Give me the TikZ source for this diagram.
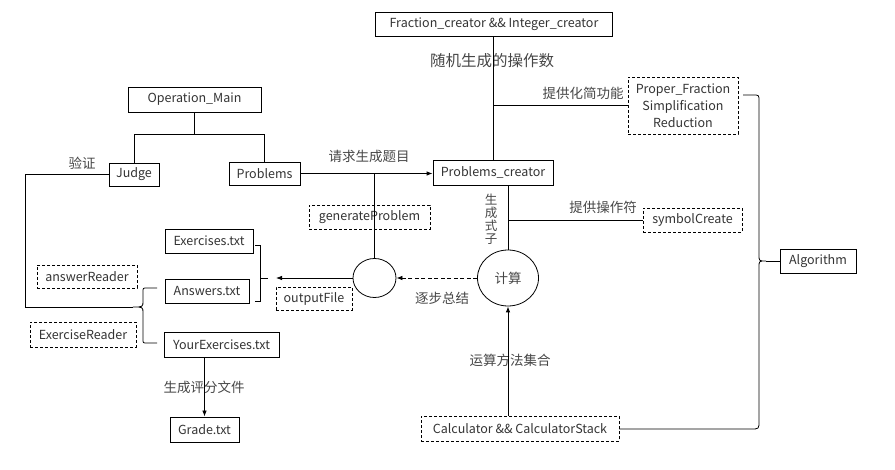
\documentclass[tikz,border=0pt]{standalone}
\usepackage{fontspec}
\setmainfont{Noto Sans CJK SC}
\usetikzlibrary{arrows.meta,shapes.geometric,calc}
\tikzset{
  box/.style={draw, line width=0.8pt, inner sep=0pt, font=\fontsize{12.5}{14}\selectfont, text=black!80},
  dbox/.style={box, dash pattern=on 3pt off 2pt},
  lbl/.style={inner sep=0pt, font=\fontsize{13.5}{15}\selectfont, text=black!72},
  conn/.style={line width=0.8pt},
  arr/.style={conn, -{Latex[length=6pt,width=4.5pt]}},
}
\begin{document}
\begin{tikzpicture}[x=1pt,y=-1pt]
\useasboundingbox (0,0) rectangle (895,470);
% nodes
\node[box, minimum width=237, minimum height=24] (fic) at (494,24.5) {Fraction\_creator \&\& Integer\_creator};
\node[box, minimum width=133, minimum height=25] (om) at (194.5,99.5) {Operation\_Main};
\node[box, minimum width=50, minimum height=23] (judge) at (134,174.5) {Judge};
\node[box, minimum width=71, minimum height=23] (prob) at (264.5,173.5) {Problems};
\node[box, minimum width=120, minimum height=25] (pc) at (493,172.5) {Problems\_creator};
\node[dbox, minimum width=110, minimum height=57, align=center, font=\fontsize{12.5}{17}\selectfont] (pf) at (683,105.5) {Proper\_Fraction\\Simplification\\Reduction};
\node[dbox, minimum width=99, minimum height=24] (sc) at (692.5,220) {symbolCreate};
\node[box, minimum width=76, minimum height=24] (alg) at (818,261) {Algorithm};
\node[dbox, minimum width=121, minimum height=24] (gp) at (369.5,217) {generateProblem};
\node[box, minimum width=88, minimum height=24] (ex) at (209,241) {Exercises.txt};
\node[dbox, minimum width=100, minimum height=23] (ar) at (87,276.5) {answerReader};
\node[box, minimum width=84, minimum height=24] (ans) at (207,291) {Answers.txt};
\node[dbox, minimum width=76, minimum height=23] (of) at (314,298.5) {outputFile};
\node[draw, conn, ellipse, inner sep=0pt, minimum width=43, minimum height=39] (oc) at (374.5,278) {};
\node[draw, conn, ellipse, inner sep=0pt, minimum width=61, minimum height=56, font=\fontsize{13.5}{15}\selectfont, text=black!72] (calc) at (508,278) {计算};
\node[dbox, minimum width=106, minimum height=25] (er) at (83,334.5) {ExerciseReader};
\node[box, minimum width=115, minimum height=25] (yex) at (221.5,344.5) {YourExercises.txt};
\node[box, minimum width=69, minimum height=25] (grade) at (204.5,429.5) {Grade.txt};
\node[dbox, minimum width=198, minimum height=25] (cs) at (520,429) {Calculator \&\& CalculatorStack};
% labels
\node[lbl, font=\fontsize{15.5}{17}\selectfont] (l1) at (492,61) {随机生成的操作数};
\node[lbl] (l2) at (583,93) {提供化简功能};
\node[lbl] (l3) at (369,156) {请求生成题目};
\node[lbl, align=center, font=\fontsize{12.5}{13}\selectfont] (l4) at (491,219) {生\\成\\式\\子};
\node[lbl] (l5) at (603,207) {提供操作符};
\node[lbl] (l6) at (442,298) {逐步总结};
\node[lbl] (l7) at (510,360) {运算方法集合};
\node[lbl] (l8) at (204,387) {生成评分文件};
\node[lbl] (l9) at (82,163) {验证};
% coordinates
\coordinate (jl) at (25,307);
\coordinate (lbt) at (133,307);
\coordinate (lbtop) at (157,288);
\coordinate (lbbot) at (157,343);
\coordinate (rbtop) at (255,245);
\coordinate (rbbot) at (255,301);
\coordinate (rbtick) at (268,278);
\coordinate (abt) at (766,261);
\coordinate (abtop) at (743,95);
% connectors
\draw[conn] (om.south) -- ++(0,22);
\draw[conn] (judge.north) |- ($(om.south)+(0,22)$) -| (prob.north);
\draw[conn] (judge.west) -| (jl) -- (lbt);
\draw[conn] (lbtop) -- (147,288) .. controls (143,288) .. (143,292) -- (143,301) .. controls (143,307) .. (lbt)
  .. controls (143,307) .. (143,313) -- (143,339) .. controls (143,343) .. (147,343) -- (lbbot);
\draw[conn] (rbtop) -- (260,245) -- (260,301) -- (rbbot);
\draw[conn] (260,278) -- (rbtick);
\draw[arr] (oc.west) -- (276,278);
\draw[arr] (prob.east) -- (prob.east -| pc.west);
\draw[conn] (prob.east -| oc.north) -- (oc.north);
\draw[conn] (pc.north) -- (pc.north |- fic.south);
\draw[conn] (pc.north |- pf.west) -- (pf.west);
\draw[conn] (pc.south -| calc.north) -- (calc.north);
\draw[conn] (sc.west -| calc.north) -- (sc.west);
\draw[arr, dash pattern=on 4pt off 2.5pt] (calc.west) -- (oc.east);
\draw[arr] (cs.north -| calc.south) -- (calc.south);
\draw[arr] (yex.south -| grade.north) -- (grade.north);
\draw[conn] (cs.east) -- (751,429) .. controls (759,429) .. (759,421) -- (759,267) .. controls (759,261) .. (abt)
  .. controls (759,261) .. (759,255) -- (759,101) .. controls (759,95) .. (753,95) -- (abtop);
\draw[conn] (abt) -- (alg.west);
\end{tikzpicture}
\end{document}
